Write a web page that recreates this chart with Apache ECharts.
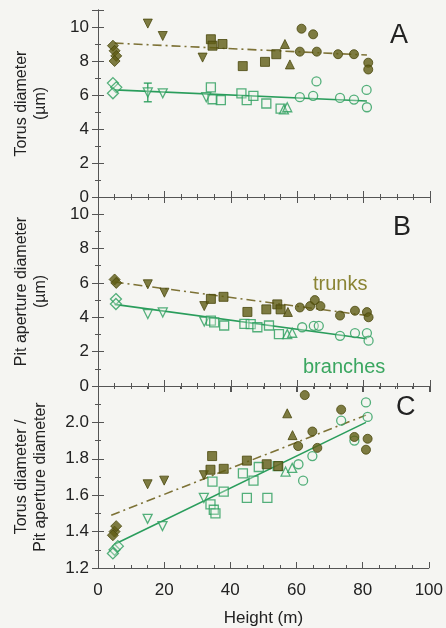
<!DOCTYPE html>
<html><head><meta charset="utf-8">
<script src="https://cdn.jsdelivr.net/npm/echarts@6/dist/echarts.min.js"></script>
<style>html,body{margin:0;padding:0;background:#f5f5f2}#c{width:446px;height:628px}</style>
</head><body><div id="c"></div>
<script>
// ---- data (Height m, value) ----
const trunkA = [[4.5,8.9],[5,8.6],[5.5,8.3],[5,8.0],[15,10.2],[19.5,9.47],[31.5,8.2],[34,9.28],[34.5,8.9],[37.5,9.0],[43.6,7.7],[50.3,7.95],[53.7,8.4],[56.3,9.0],[57.8,7.8],[60.8,8.55],[61.3,9.9],[64.8,9.57],[65.9,8.55],[72.3,8.4],[77.1,8.4],[81.4,7.9],[81.4,7.5]];
const branchA = [[4.5,6.7],[5.5,6.45],[4.5,6.1],[15,6.15],[19.5,6.1],[32.6,5.87],[34,6.45],[34.5,5.75],[37,5.7],[43.2,6.1],[44.8,5.7],[46.8,5.95],[50.7,5.5],[55,5.2],[56,5.15],[57,5.28],[60.8,5.87],[64.8,5.95],[65.8,6.8],[72.9,5.83],[77.1,5.73],[80.9,6.3],[81,5.28]];
const trunkB = [[5,6.2],[5.5,6.0],[15,5.92],[20,5.43],[32,4.65],[34,5.07],[37.8,5.19],[45,4.31],[50.7,4.46],[54,4.75],[55,4.46],[57.2,4.31],[60.8,4.57],[63.9,4.65],[65.3,5.0],[67,4.65],[72.9,4.1],[77.4,4.38],[81,4.3],[81.5,4.0]];
const branchB = [[5.4,5.06],[5.4,4.77],[15,4.19],[19.5,4.28],[32,3.75],[34,3.8],[35,3.7],[38,3.52],[44.1,3.62],[46,3.6],[48,3.42],[51.5,3.52],[54.5,3.02],[57,3.02],[58.5,3.1],[61.5,3.42],[65,3.5],[66.5,3.5],[72.9,2.92],[77.4,3.08],[81,3.08],[81.5,2.64]];
const trunkC = [[5,1.40],[5.5,1.43],[4.5,1.38],[15,1.66],[20,1.68],[32,1.71],[34,1.74],[34.5,1.815],[38,1.745],[45,1.79],[51,1.77],[54.5,1.76],[57.2,2.05],[58.8,1.93],[60.5,1.87],[62.5,2.15],[64.8,1.95],[66.3,1.86],[73.5,2.07],[77.5,1.92],[81.5,1.91],[81,1.85]];
const branchC = [[5,1.30],[6,1.32],[4.5,1.28],[15,1.47],[19.5,1.43],[32,1.585],[34,1.55],[34.6,1.675],[35,1.52],[35.5,1.50],[38,1.62],[43.8,1.72],[45,1.585],[47,1.68],[48.6,1.755],[51.2,1.585],[54.3,1.76],[56.7,1.73],[58.7,1.75],[60.6,1.77],[62,1.68],[64.8,1.815],[73.5,2.01],[77.5,1.90],[81,2.11],[81.5,2.03]];
const fitTrunkA = [[5,9.05],[81,8.35]];
const fitBranchA = [[5,6.3],[81,5.65]];
const fitTrunkB = [[5,6.05],[81,4.1]];
const fitBranchB = [[5,4.75],[81,2.75]];
const fitTrunkC = [[4,1.49],[81,2.04]];
const fitBranchC = [[5,1.33],[81,2.00]];
const errorBarA = [[15,5.6,6.7]];
const xTicks = [0,20,40,60,80,100];
const yTitles = ['Torus diameter\n(µm)','Pit aperture diameter\n(µm)','Torus diameter /\nPit aperture diameter'];
const panelLetters = ['A','B','C'];
const groupNames = ['trunks','branches'];

const FONT = '"Liberation Sans", Arial, sans-serif';
const TRUNK = '#5f5c14', TRUNK_EDGE = '#4a470c', BRANCH = '#2a9d5c';
const AXIS = '#555';

function symFor(v){
  const h = v[0];
  if (h < 10) return 'diamond';
  if (h < 33) return 'triangle';
  if (h < 56) return 'rect';
  if (h < 60) return 'triangle';
  return 'circle';
}
function symRot(v){ const h=v[0]; return (h>=10 && h<33) ? 180 : 0; }

const grids = [
  {left:98,right:16,top:10,height:187},
  {left:98,right:16,top:197,height:189},
  {left:98,right:16,top:386,height:187}
];
const yRanges = [[0,11,2],[0,11,2],[1.2,2.2,0.2]];

const xAxis = [], yAxis = [];
grids.forEach((g,i)=>{
  const common = {type:'value',min:0,max:100,interval:20,gridIndex:i,
    axisLine:{show:true,lineStyle:{color:AXIS,width:1}},
    axisTick:{show:true,inside:true,length:6,lineStyle:{color:AXIS}},
    minorTick:{show:true,splitNumber:4,length:3,lineStyle:{color:AXIS}},
    splitLine:{show:false}};
  xAxis.push(Object.assign({},common,{position:'bottom',
    axisLabel:{show:i===2,fontSize:17,color:'#222',fontFamily:FONT,margin:14,
      formatter:(v)=>xTicks.indexOf(v)>=0?String(v):''},
    name: i===2?'Height (m)':'', nameLocation:'middle', nameGap:42,
    nameTextStyle:{fontSize:17,color:'#222',fontFamily:FONT}}));
  xAxis.push(Object.assign({},common,{position:'top',axisLabel:{show:false}}));
  const r = yRanges[i];
  const yc = {type:'value',min:r[0],max:r[1],interval:r[2],gridIndex:i,
    axisLine:{show:true,lineStyle:{color:AXIS,width:1}},
    axisTick:{show:true,inside:true,length:6,lineStyle:{color:AXIS}},
    minorTick:{show:true,splitNumber:2,length:3,lineStyle:{color:AXIS}},
    splitLine:{show:false}};
  yAxis.push(Object.assign({},yc,{position:'left',
    axisLabel:{show:true,fontSize:17,color:'#222',fontFamily:FONT,margin:9,
      formatter:(v)=>{ if(i<2){ return (v>10.5)?'':String(v);} return v>2.05?'':v.toFixed(1);} },
    name:yTitles[i],nameLocation:'middle',nameGap:48,nameRotate:90,
    nameTextStyle:{fontSize:16,color:'#222',fontFamily:FONT,lineHeight:19}}));
  yAxis.push(Object.assign({},yc,{position:'right',axisLabel:{show:false}}));
});

const sets = [[trunkA,branchA,fitTrunkA,fitBranchA],[trunkB,branchB,fitTrunkB,fitBranchB],[trunkC,branchC,fitTrunkC,fitBranchC]];
const series = [];
sets.forEach((s,i)=>{
  const xi = 2*i, yi = 2*i;
  series.push({type:'line',xAxisIndex:xi,yAxisIndex:yi,data:s[2],symbol:'none',z:1,
    lineStyle:{color:'#7d7236',width:1.6,type:[9,4,2,4]}});
  series.push({type:'line',xAxisIndex:xi,yAxisIndex:yi,data:s[3],symbol:'none',z:1,
    lineStyle:{color:BRANCH,width:1.6}});
  series.push({type:'scatter',name:groupNames[1],xAxisIndex:xi,yAxisIndex:yi,data:s[1],z:2,
    symbol:symFor,symbolRotate:symRot,symbolSize:(v)=>symFor(v)==='diamond'?11:9,
    itemStyle:{color:'rgba(240,245,235,0.4)',borderColor:BRANCH,borderWidth:1.3}});
  series.push({type:'scatter',name:groupNames[0],xAxisIndex:xi,yAxisIndex:yi,data:s[0],z:3,
    symbol:symFor,symbolRotate:symRot,symbolSize:(v)=>symFor(v)==='diamond'?11:9,
    itemStyle:{color:TRUNK,borderColor:TRUNK_EDGE,borderWidth:1}});
});
series.push({type:'custom',xAxisIndex:0,yAxisIndex:0,data:errorBarA,z:2,
  renderItem:(params,api)=>{
    const lo = api.coord([api.value(0),api.value(1)]);
    const hi = api.coord([api.value(0),api.value(2)]);
    const st = {stroke:BRANCH,lineWidth:1.3};
    return {type:'group',children:[
      {type:'line',shape:{x1:lo[0],y1:lo[1],x2:hi[0],y2:hi[1]},style:st},
      {type:'line',shape:{x1:lo[0]-4,y1:lo[1],x2:lo[0]+4,y2:lo[1]},style:st},
      {type:'line',shape:{x1:hi[0]-4,y1:hi[1],x2:hi[0]+4,y2:hi[1]},style:st}
    ]};
  }});

const graphic = [
  {type:'text',left:390,top:22,style:{text:panelLetters[0],font:'27px '+FONT,fill:'#222'}},
  {type:'text',left:393,top:214,style:{text:panelLetters[1],font:'27px '+FONT,fill:'#222'}},
  {type:'text',left:396,top:394,style:{text:panelLetters[2],font:'27px '+FONT,fill:'#222'}},
  {type:'text',left:313,top:274,style:{text:groupNames[0],font:'20px '+FONT,fill:'#8a8434'}},
  {type:'text',left:303,top:357,style:{text:groupNames[1],font:'20px '+FONT,fill:'#3aa660'}}
];

const chart = echarts.init(document.getElementById('c'),null,{renderer:'canvas'});
chart.setOption({backgroundColor:'#f5f5f2',animation:false,grid:grids,xAxis,yAxis,series,graphic});
</script></body></html>
